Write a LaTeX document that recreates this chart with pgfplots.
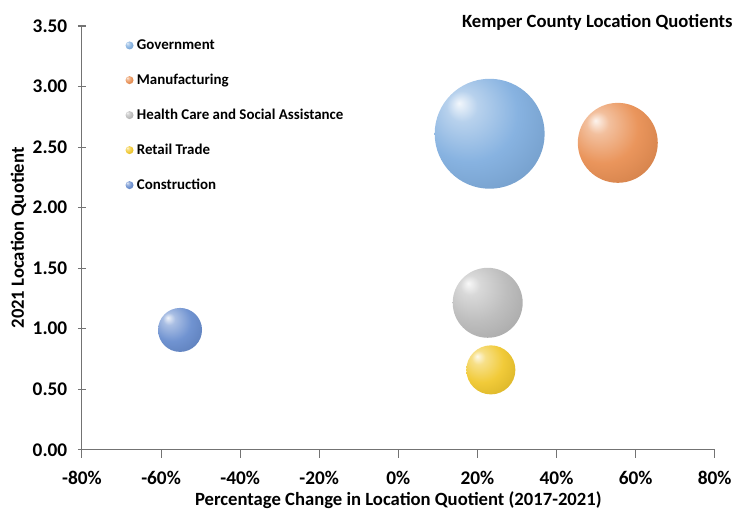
\documentclass[border=0pt]{standalone}
\usepackage{fontspec}
\setmainfont{Carlito}
\usepackage{pgfplots}
\pgfplotsset{compat=1.18}
\definecolor{cgov}{RGB}{125,172,222}
\definecolor{cman}{RGB}{232,140,78}
\definecolor{chea}{RGB}{185,185,185}
\definecolor{cret}{RGB}{240,198,40}
\definecolor{ccon}{RGB}{100,138,205}
\colorlet{sballc}{gray}
\tikzset{sball color/.code={\colorlet{sballc}{#1}}}
\pgfdeclareradialshading[sballc]{softball}{\pgfqpoint{-14bp}{14bp}}{%
 color(0bp)=(sballc!10!white);
 color(7bp)=(sballc!55!white);
 color(22bp)=(sballc!92!white);
 color(42bp)=(sballc!88!black);
 color(52bp)=(sballc!72!black);
 color(66bp)=(sballc!75!white)}
\pgfdeclareplotmark{sball}{%
  \pgfsetstrokeopacity{0}%
  \pgfpathcircle{\pgfpointorigin}{\pgfplotmarksize}%
  \pgfshadepath{softball}{0}%
  \pgfusepath{}}
\begin{document}
\begin{tikzpicture}
\begin{axis}[
  name=ax,
  scale only axis, width=474.75pt, height=318pt,
  xmin=-80, xmax=80, ymin=0, ymax=3.5,
  xtick={-80,-60,...,80}, ytick={0,0.5,...,3.5},
  axis x line*=bottom, axis y line*=left,
  axis line style={draw=black!55, line width=0.8pt},
  tick style={draw=black!55, line width=0.8pt},
  xtick align=outside, ytick align=center, major tick length=6pt,
  /pgf/number format/assume math mode=true,
  tick label style={font=\bfseries\fontsize{14.5}{16}\selectfont},
  xticklabel={\pgfmathprintnumber{\tick}\%},
  xticklabel style={yshift=-6.5pt},
  yticklabel style={xshift=-4.5pt, /pgf/number format/.cd, fixed, fixed zerofill, precision=2},
  xlabel={Percentage Change in Location Quotient (2017-2021)},
  ylabel={2021 Location Quotient},
  label style={font=\bfseries\fontsize{14}{16}\selectfont},
  xlabel style={yshift=1.5pt},
  ylabel style={yshift=-2pt},
  legend style={at={(0,1)}, anchor=north west, xshift=29.5pt, yshift=-6pt,
    draw=none, fill=none, font=\bfseries\fontsize{11.2}{13}\selectfont,
    row sep=12.9pt, column sep=0.5pt},
  legend cell align=left,
  legend image code/.code={\draw[mark size=3pt] plot coordinates {(0.1cm,0cm)};},
]
\addplot[only marks, mark=sball, mark size=41.25pt, mark options={sball color=cgov}] coordinates {(23.1,2.61)};
\addlegendentry{Government}
\addplot[only marks, mark=sball, mark size=30pt, mark options={sball color=cman}] coordinates {(55.5,2.535)};
\addlegendentry{Manufacturing}
\addplot[only marks, mark=sball, mark size=26.25pt, mark options={sball color=chea}] coordinates {(22.6,1.214)};
\addlegendentry{Health Care and Social Assistance}
\addplot[only marks, mark=sball, mark size=18.4pt, mark options={sball color=cret}] coordinates {(23.4,0.66)};
\addlegendentry{Retail Trade}
\addplot[only marks, mark=sball, mark size=16.5pt, mark options={sball color=ccon}] coordinates {(-55.2,0.99)};
\addlegendentry{Construction}
\end{axis}
\node[anchor=west, font=\bfseries\fontsize{14}{16}\selectfont, inner sep=0pt]
  at ([xshift=285pt, yshift=3pt]ax.north west) {Kemper County Location Quotients};
\pgfresetboundingbox
\path[use as bounding box] ([xshift=-61.5pt, yshift=-45pt]ax.south west) rectangle ++(550pt,382.5pt);
\end{tikzpicture}
\end{document}
